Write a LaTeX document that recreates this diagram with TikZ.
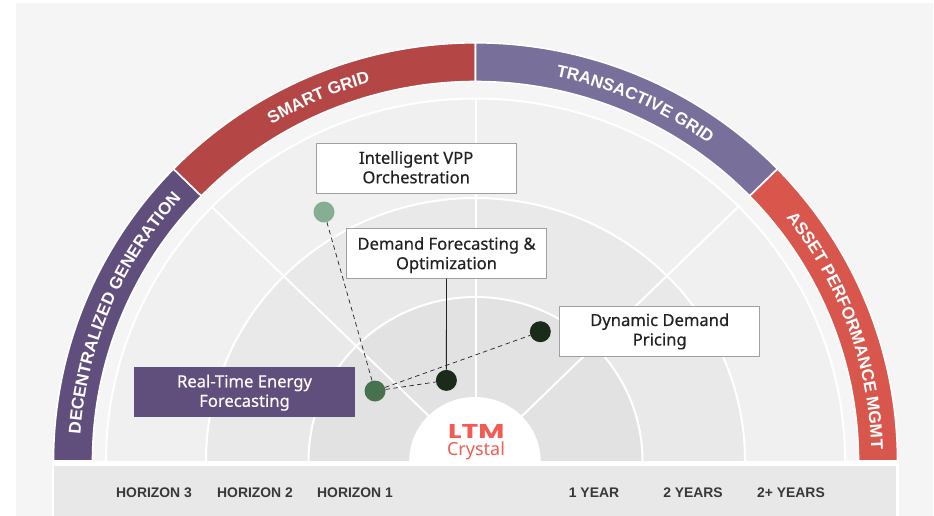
\documentclass[tikz,border=0pt]{standalone}
\usepackage{fontspec}
\usepackage{graphicx}
\setmainfont{Liberation Sans}
\newfontfamily\labelfont[RawFeature={embolden=0.4}]{Noto Sans}
\newfontfamily\plainfont{Noto Sans}
\newfontfamily\logofont{Poppins}
\usetikzlibrary{decorations.text,calc}
\definecolor{pagebg}{HTML}{F5F5F5}
\definecolor{ringA}{HTML}{F0F0F0}
\definecolor{ringB}{HTML}{E9E9E9}
\definecolor{ringC}{HTML}{E2E2E2}
\definecolor{barbg}{HTML}{E8E8E8}
\definecolor{bandPurple}{HTML}{604F7D}
\definecolor{bandRed}{HTML}{B54646}
\definecolor{bandLav}{HTML}{78709B}
\definecolor{bandCoral}{HTML}{D9564C}
\definecolor{boxline}{HTML}{A0A0A0}
\definecolor{ink}{HTML}{222222}
\definecolor{logo}{HTML}{F25C54}
\definecolor{dotSage}{HTML}{87AD93}
\definecolor{dotGreen}{HTML}{47724F}
\definecolor{dotDark}{HTML}{1A2B1A}
\newcommand{\halfdisc}[3]{\fill[#1] (475.5,461) ++(-#2pt,0pt) arc[start angle=180,end angle=0,x radius=#2pt,y radius=#3pt] -- cycle;}
\newcommand{\ringline}[2]{\draw[whiteline] (475.5,461) ++(-#1pt,0pt) arc[start angle=180,end angle=0,x radius=#1pt,y radius=#2pt];}
\newcommand{\bandseg}[3]{\fill[#1,draw=white,line width=1.6pt] (475.5,461) ++(#2:422pt and 418.2pt)
  arc[start angle=#2,end angle=#3,x radius=422pt,y radius=418.2pt]
  -- ($(475.5,461)+(#3:383pt and 379.5pt)$)
  arc[start angle=#3,end angle=#2,x radius=383pt,y radius=379.5pt] -- cycle;}
\newcommand{\bandtext}[3]{\path[decorate,decoration={text along path,text align=center,
  text={|\bfseries\fontsize{17}{17}\selectfont\color{white}|#3}}]
  (475.5,461) ++(#1:396pt and 392.5pt) arc[start angle=#1,end angle=#2,x radius=396pt,y radius=392.5pt];}
\newcommand{\lowerline}[1]{\rule{0pt}{#1pt}}
\tikzset{
  whiteline/.style={draw=white,line width=2pt},
  cardbox/.style={draw=boxline,line width=0.9pt,fill=white,text=ink,minimum width=200pt,minimum height=49.5pt,
    inner sep=0pt,align=center,font=\labelfont\fontsize{16.6}{19.5}\selectfont},
  purplebox/.style={fill=bandPurple,text=white,minimum width=221pt,minimum height=50pt,
    inner sep=0pt,align=center,font=\labelfont\fontsize{16.6}{19.5}\selectfont},
  dotnode/.style={circle,minimum size=21pt,inner sep=0pt},
  axislabel/.style={text=ink!90,font=\bfseries\fontsize{13.9}{14}\selectfont,inner sep=0pt},
  dashlink/.style={draw=ink,line width=0.7pt,dash pattern=on 4.5pt off 3.5pt},
  solidlink/.style={draw=ink,line width=0.9pt}
}
\begin{document}
\begin{tikzpicture}[x=1pt,y=-1pt]
\useasboundingbox (0,0) rectangle (934,516);
\fill[white] (0,0) rectangle (934,516);
\fill[pagebg] (16,3) rectangle (933,516);
% rings
\halfdisc{ringA}{369.5}{362.5}
\halfdisc{ringB}{269.5}{263}
\halfdisc{ringC}{167}{164}
\ringline{369.5}{362.5}
\ringline{269.5}{263}
\ringline{167}{164}
% radial lines
\draw[whiteline] (475.5,461) -- (475.5,98.5);
\draw[whiteline] (475.5,461) -- (212,207);
\draw[whiteline] (475.5,461) -- (738,207);
% centre
\fill[white] (409.2,461) arc[start angle=180,end angle=0,x radius=65.7pt,y radius=64pt] -- cycle;
% bands
\bandseg{bandPurple}{180}{135.7}
\bandseg{bandRed}{135.7}{90}
\bandseg{bandLav}{90}{44.3}
\bandseg{bandCoral}{44.3}{0}
\bandtext{179}{135}{DECENTRALIZED GENERATION}
\bandtext{135.7}{90.7}{SMART GRID}
\bandtext{89}{43.2}{TRANSACTIVE GRID}
\bandtext{43}{-3}{ASSET PERFORMANCE MGMT}
% bottom bar
\fill[white] (52,461) rectangle (899,516);
\fill[barbg] (54,466) rectangle (895.5,516);
\node[axislabel] (h3) at (154,493) {HORIZON 3};
\node[axislabel] (h2) at (255,493) {HORIZON 2};
\node[axislabel] (h1) at (355,493) {HORIZON 1};
\node[axislabel] (y1) at (594,493) {1 YEAR};
\node[axislabel] (y2) at (693,493) {2 YEARS};
\node[axislabel] (y3) at (791,493) {2+ YEARS};
% logo
\node[inner sep=0pt,text=logo,font=\logofont\bfseries\fontsize{20}{20}\selectfont] (ltm) at (476.3,431) {\scalebox{1.42}[1]{LTM}};
\node[inner sep=0pt,text=logo,font=\plainfont\fontsize{18}{18}\selectfont] (crystal) at (476,451) {Crystal};
% cards
\node[cardbox] (vpp) at (416.2,168.2) {Intelligent VPP\\Orchestration\rule[-2pt]{0pt}{1pt}};
\node[cardbox] (demand) at (446.5,253.4) {\lowerline{16}Demand Forecasting \&\\Optimization};
\node[cardbox] (pricing) at (659.7,331.4) {Dynamic Demand\\Pricing};
\node[purplebox] (realtime) at (244.5,392) {\lowerline{14}Real-Time Energy\\Forecasting};
% dots
\node[dotnode,fill=dotSage] (dsage) at (324,212) {};
\node[dotnode,fill=dotGreen] (dgreen) at (375,391) {};
\node[dotnode,fill=dotDark] (dmid) at (446.4,380.4) {};
\node[dotnode,fill=dotDark] (dright) at (540.3,331.7) {};
% connectors
\draw[dashlink] (dsage) -- (dgreen);
\draw[dashlink] (dgreen) -- (dmid);
\draw[dashlink] (dgreen) -- (dright);
\draw[solidlink] (demand.south) -- (dmid.north);
\end{tikzpicture}
\end{document}
